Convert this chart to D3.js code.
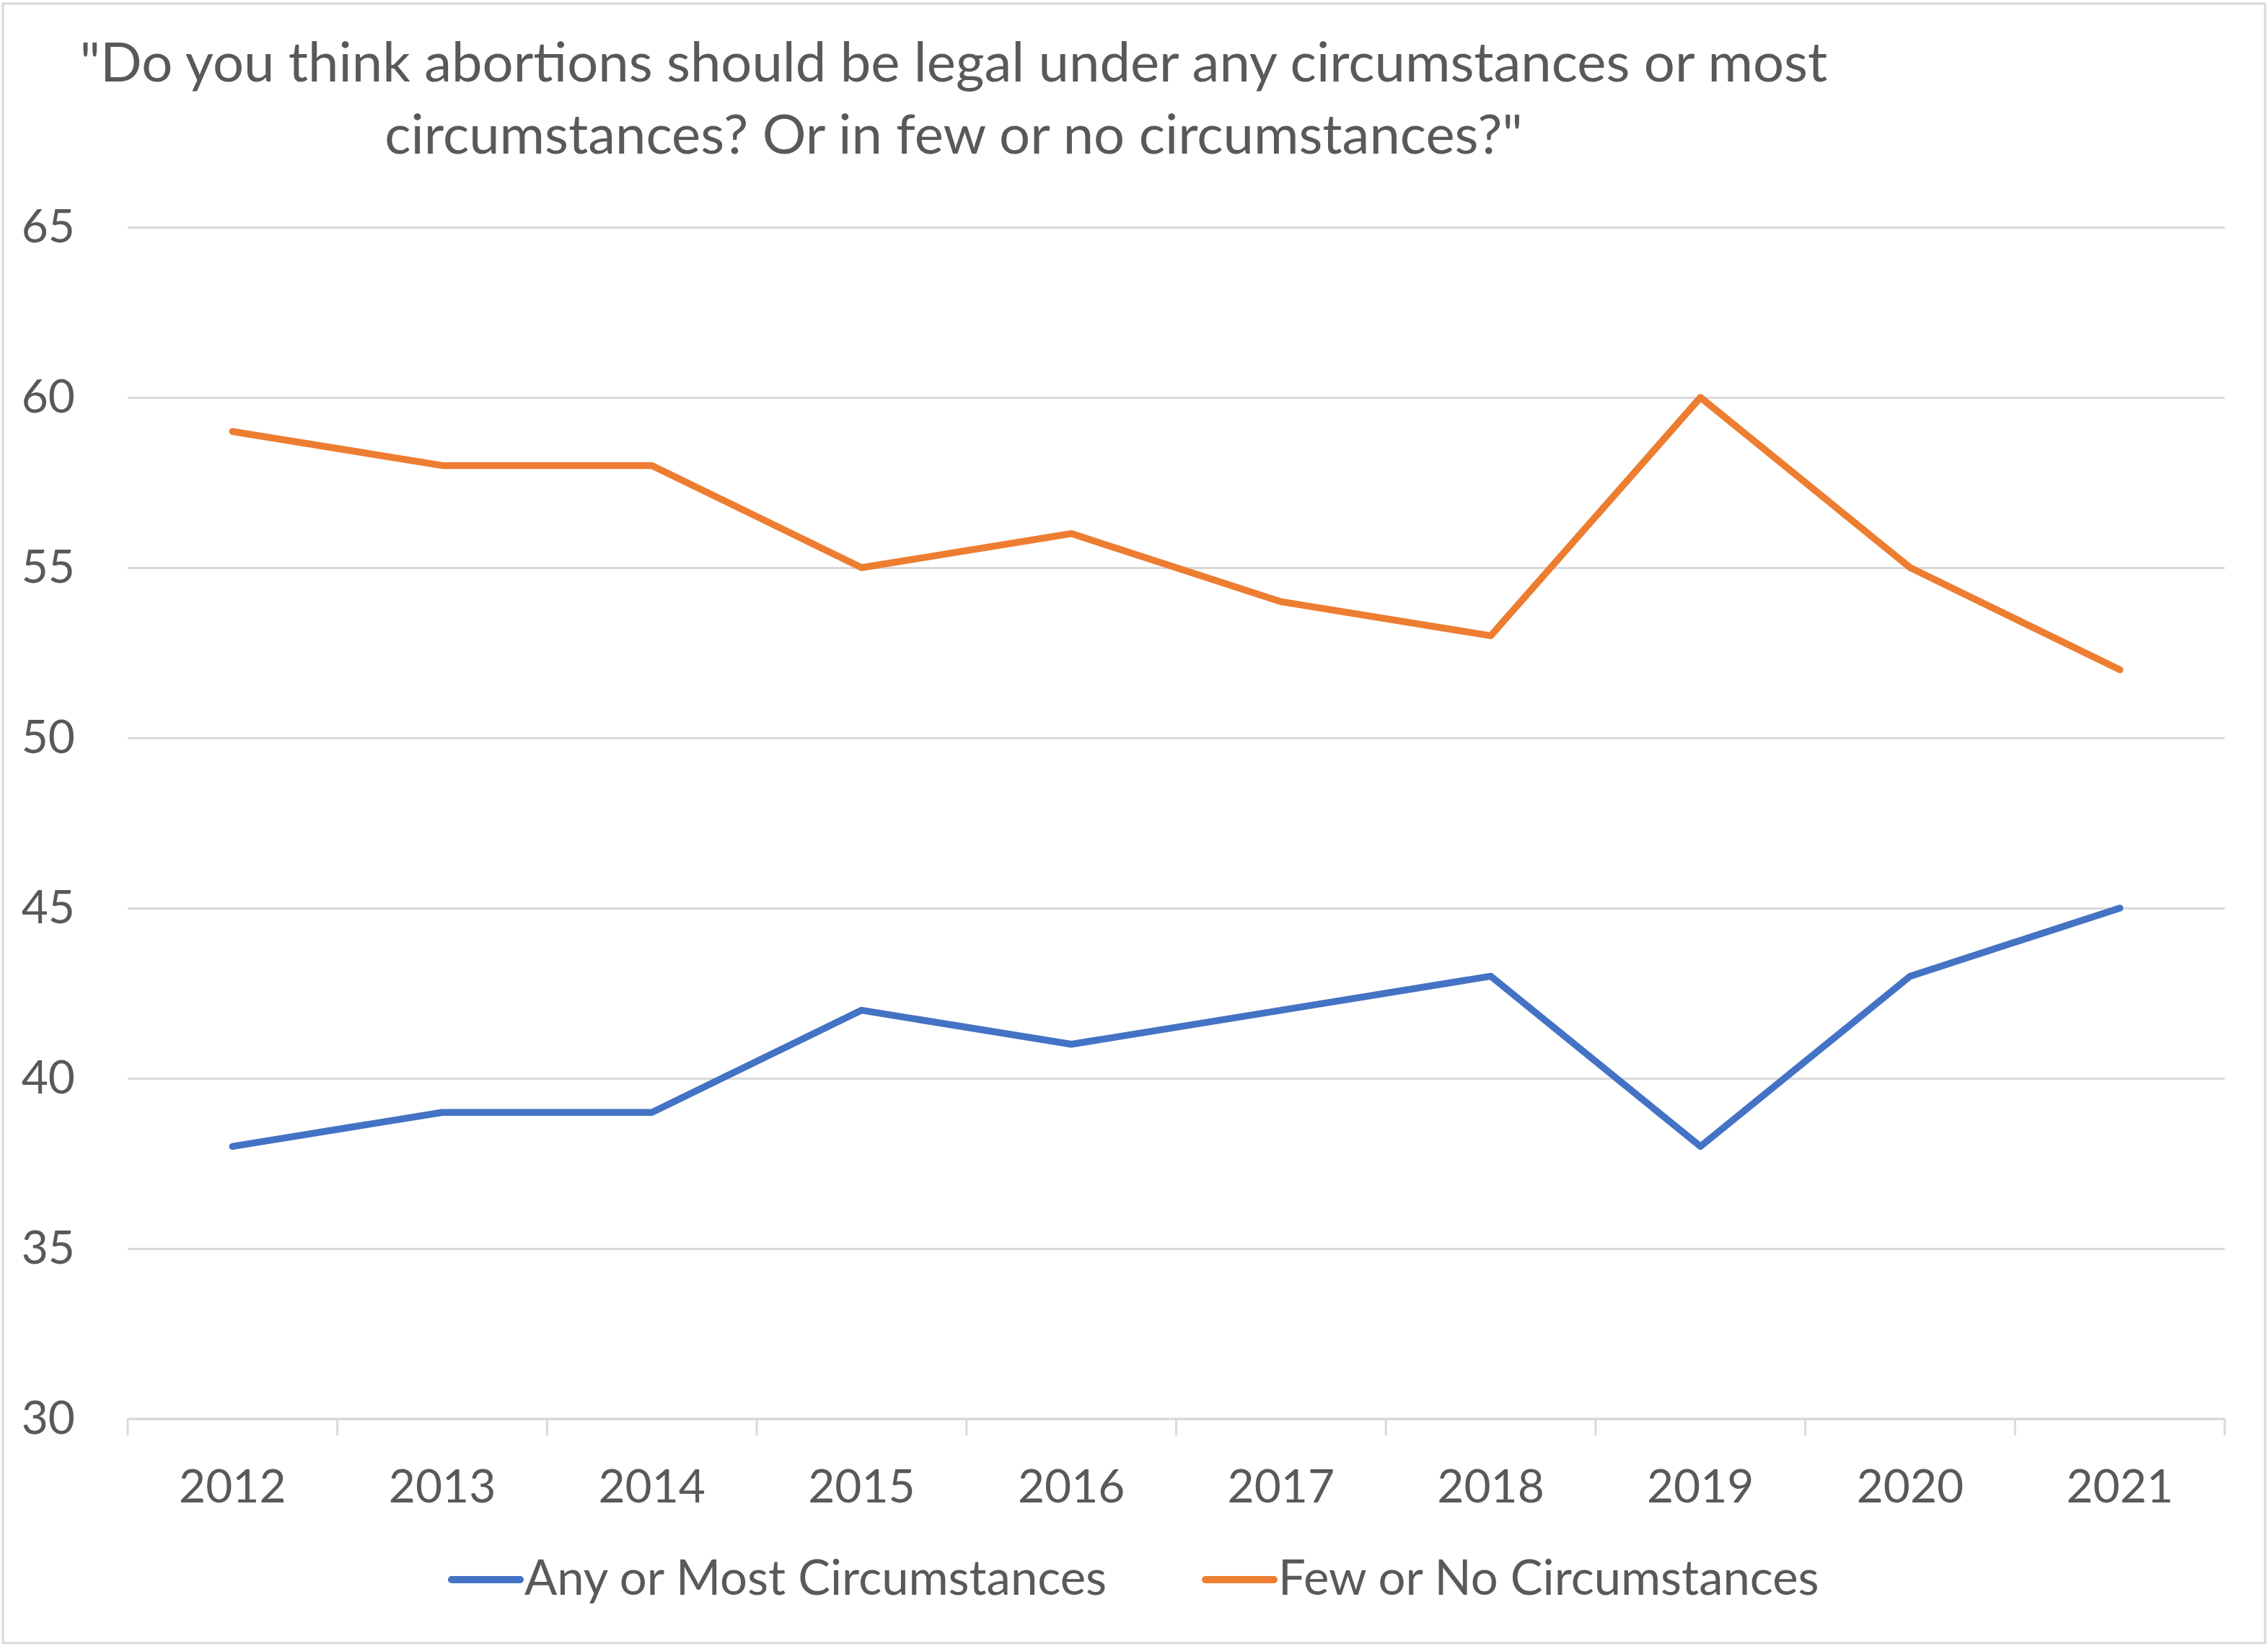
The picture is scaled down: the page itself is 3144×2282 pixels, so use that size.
<!doctype html>
<html>
<head>
<meta charset="utf-8"/>
<title>Abortion opinion 2012-2021</title>
<script src="https://d3js.org/d3.v7.min.js"></script>
<style>
  body { margin: 0; background: #fff; }
  text { font-family: Lato, "Open Sans", sans-serif; fill: #595959; }
</style>
</head>
<body>
<script>
// data
var years = ["2012", "2013", "2014", "2015", "2016", "2017", "2018", "2019", "2020", "2021"];
var anyOrMost = [38, 39, 39, 42, 41, 42, 43, 38, 43, 45];
var fewOrNone = [59, 58, 58, 55, 56, 54, 53, 60, 55, 52];
var yTicks = [30, 35, 40, 45, 50, 55, 60, 65];
var seriesNames = ["Any or Most Circumstances", "Few or No Circumstances"];
var titleLines = ["\"Do you think abortions should be legal under any circumstances or most",
                  "circumstances? Or in few or no circumstances?\""];

var W = 3144, H = 2282;
var pLeft = 177, pRight = 3084, pTop = 315, pBottom = 1967;

var svg = d3.select("body").append("svg")
    .attr("width", W)
    .attr("height", H);

// chart border
svg.append("rect")
    .attr("x", 4).attr("y", 5)
    .attr("width", W - 8).attr("height", H - 9)
    .attr("fill", "#fff")
    .attr("stroke", "#d9d9d9")
    .attr("stroke-width", 3);

var x = d3.scaleBand().domain(years).range([pLeft, pRight]).padding(0);
var y = d3.scaleLinear().domain([30, 65]).range([pBottom, pTop]);

// y gridlines + labels
var yAxis = svg.append("g")
    .attr("transform", "translate(" + pLeft + ",0)")
    .call(d3.axisLeft(y).tickValues(yTicks).tickSize(-(pRight - pLeft)).tickPadding(73));
yAxis.select(".domain").remove();
yAxis.selectAll(".tick line").attr("stroke", "#d9d9d9").attr("stroke-width", 3);
yAxis.selectAll(".tick text")
    .style("font-size", "64px")
    .attr("fill", "#595959");

// x axis line with ticks at category boundaries
var xg = svg.append("g");
xg.append("line")
    .attr("x1", pLeft).attr("x2", pRight)
    .attr("y1", y(30)).attr("y2", y(30))
    .attr("stroke", "#d9d9d9").attr("stroke-width", 3);
var bounds = years.map(function(d){ return x(d); }).concat([x.range()[1]]);
xg.selectAll("line.tk")
    .data(bounds)
    .enter()
    .append("line")
    .attr("class", "tk")
    .attr("x1", function(d){ return d; })
    .attr("x2", function(d){ return d; })
    .attr("y1", y(30)).attr("y2", y(30) + 23)
    .attr("stroke", "#d9d9d9").attr("stroke-width", 3);
xg.selectAll("text")
    .data(years)
    .enter()
    .append("text")
    .attr("x", function(d){ return x(d) + x.bandwidth() / 2; })
    .attr("y", 2083)
    .attr("text-anchor", "middle")
    .style("font-size", "64px")
    .text(function(d){ return d; });

// lines
var cx = function(d, i){ return x(years[i]) + x.bandwidth() / 2; };
var line = d3.line().x(cx).y(function(d){ return y(d); });

svg.append("path")
    .datum(fewOrNone)
    .attr("d", line)
    .attr("fill", "none")
    .attr("stroke", "#ED7D31")
    .attr("stroke-width", 9.5)
    .attr("stroke-linejoin", "round")
    .attr("stroke-linecap", "round");

svg.append("path")
    .datum(anyOrMost)
    .attr("d", line)
    .attr("fill", "none")
    .attr("stroke", "#4472C4")
    .attr("stroke-width", 9.5)
    .attr("stroke-linejoin", "round")
    .attr("stroke-linecap", "round");

// title
svg.selectAll("text.title")
    .data(titleLines)
    .enter()
    .append("text")
    .attr("class", "title")
    .attr("x", 1322)
    .attr("y", function(d, i){ return 113 + i * 100; })
    .attr("text-anchor", "middle")
    .style("font-size", "76px")
    .text(function(d){ return d; });

// legend
var legend = [
  {name: seriesNames[0], color: "#4472C4", x: 626},
  {name: seriesNames[1], color: "#ED7D31", x: 1671}
];
var lg = svg.selectAll("g.leg")
    .data(legend)
    .enter()
    .append("g")
    .attr("class", "leg")
    .attr("transform", function(d){ return "translate(" + d.x + ",2190)"; });
lg.append("line")
    .attr("x1", 0).attr("x2", 95)
    .attr("stroke", function(d){ return d.color; })
    .attr("stroke-width", 10)
    .attr("stroke-linecap", "round");
lg.append("text")
    .attr("x", 101)
    .attr("y", 21)
    .style("font-size", "67px")
    .text(function(d){ return d.name; });
</script>
</body>
</html>
